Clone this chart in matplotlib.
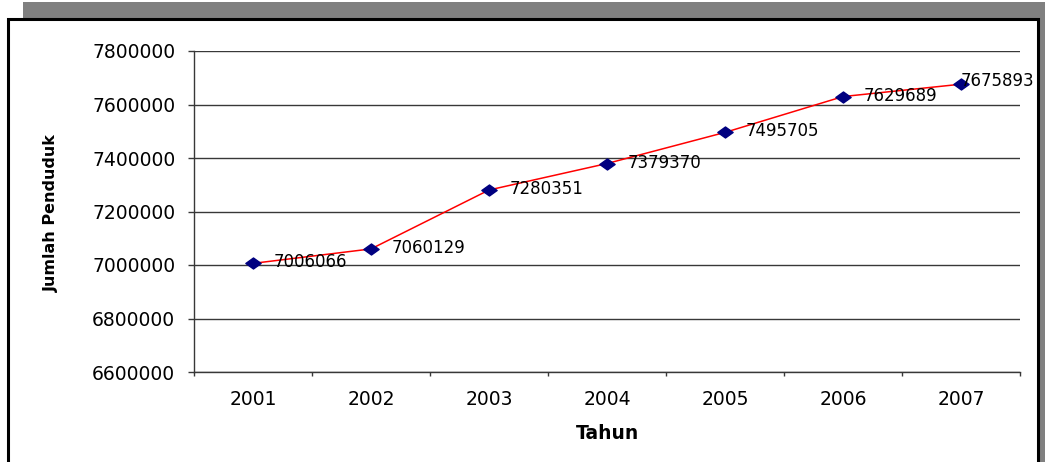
import matplotlib
matplotlib.use("Agg")
import matplotlib.pyplot as plt
from matplotlib.patches import Rectangle
from matplotlib.path import Path
from matplotlib.ticker import FixedLocator, MultipleLocator

years = ["2001", "2002", "2003", "2004", "2005", "2006", "2007"]
population = [7006066, 7060129, 7280351, 7379370, 7495705, 7629689, 7675893]
x_label = "Tahun"
y_label = "Jumlah Penduduk"

W, H, DPI = 1045, 462, 100
fig = plt.figure(figsize=(W / DPI, H / DPI), dpi=DPI)
plt.rcParams['font.family'] = ['DejaVu Sans']

# shadow and frame
fig.patches.append(Rectangle((23 / W, -0.2), 2.0, 1.2 - 2 / H, transform=fig.transFigure,
                             facecolor='#808080', edgecolor='none', zorder=0))
fig.patches.append(Rectangle((8 / W, -0.2), (1038 - 8) / W, 1.2 - 19 / H, transform=fig.transFigure,
                             facecolor='white', edgecolor='black', linewidth=2.2, zorder=1))

ax = fig.add_axes([194 / W, 1 - 372 / H, (1020 - 194) / W, (372 - 51) / H])
ax.set_zorder(2)
ax.patch.set_alpha(0)

xs = list(range(len(years)))
diamond = Path([(-1, 0), (0, 0.72), (1, 0), (0, -0.72), (-1, 0)],
               [Path.MOVETO, Path.LINETO, Path.LINETO, Path.LINETO, Path.CLOSEPOLY])
ax.plot(xs, population, color='#FF0000', linewidth=1.1, zorder=3)
ax.plot(xs, population, linestyle='none', marker=diamond, markersize=11,
        markerfacecolor='#000080', markeredgecolor='#000080', zorder=4)

for i, (x, v) in enumerate(zip(xs, population)):
    if i == len(xs) - 1:
        off = (0, 2)
    else:
        off = (14.5, 0.7)
    ax.annotate(str(v), (x, v), xytext=off, textcoords='offset points',
                ha='left', va='center', fontsize=12, color='black', zorder=5)

ax.set_xlim(-0.5, len(years) - 0.5)
ax.set_ylim(6600000, 7800000)
ax.yaxis.set_major_locator(MultipleLocator(200000))
ax.yaxis.set_major_formatter(matplotlib.ticker.FuncFormatter(lambda v, p: f"{int(round(v))}"))
ax.grid(axis='y', color='#383838', linewidth=1.0, zorder=1)
ax.set_axisbelow(True)

ax.set_xticks(xs)
ax.set_xticklabels(years)
ax.xaxis.set_minor_locator(FixedLocator([i - 0.5 for i in range(len(years) + 1)]))
ax.tick_params(axis='x', which='major', length=0, pad=13, labelsize=13.5)
ax.tick_params(axis='x', which='minor', length=3, width=1, color='#383838', direction='out')
ax.tick_params(axis='y', length=4.5, width=1, color='#383838', pad=9, labelsize=13.5)

for s in ['top', 'right']:
    ax.spines[s].set_visible(False)
for s in ['left', 'bottom']:
    ax.spines[s].set_color('#383838')
    ax.spines[s].set_linewidth(1.0)

ax.set_xlabel(x_label, fontsize=13.5, fontweight='bold')
ax.set_ylabel(y_label, fontsize=11.5, fontweight='bold')
ax.xaxis.set_label_coords(0.5, -0.162)
ax.yaxis.set_label_coords(-0.163, 0.495)

fig.savefig("out.png", dpi=DPI)
